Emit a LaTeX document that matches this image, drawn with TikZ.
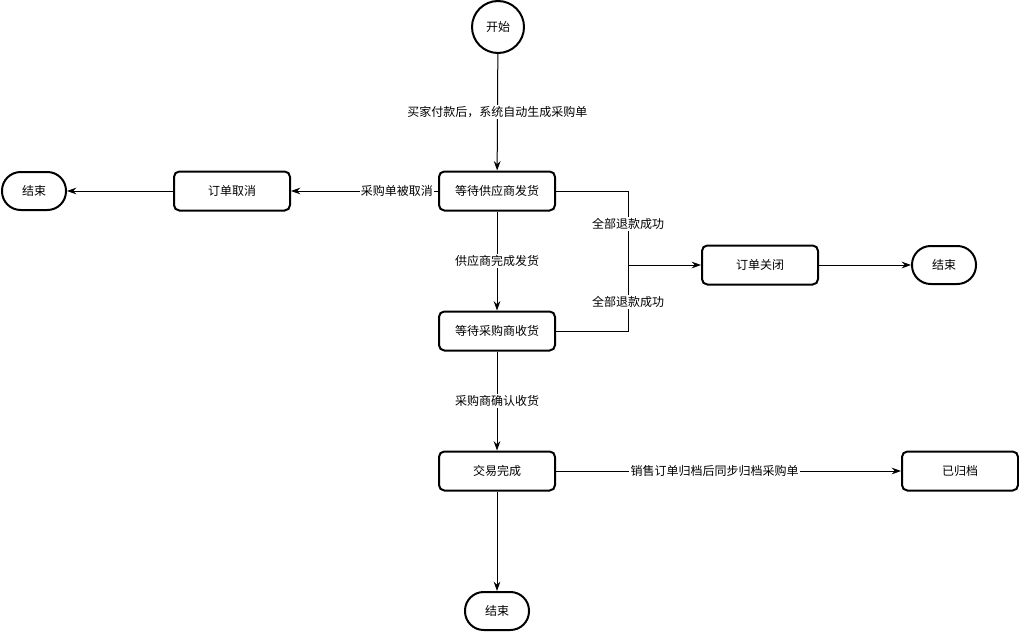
\documentclass[tikz,border=0pt]{standalone}
\usepackage{fontspec}
\setmainfont{Noto Sans CJK SC}
\usetikzlibrary{arrows.meta}
\begin{document}
\begin{tikzpicture}[x=0.75pt,y=-0.75pt,
  box/.style={draw,line width=1.5pt,rounded corners=4pt,minimum width=116*0.75pt,minimum height=39*0.75pt,font=\fontsize{9}{10}\selectfont,inner sep=0pt},
  term/.style={draw,line width=1.5pt,rounded corners=14pt,minimum width=64*0.75pt,minimum height=38*0.75pt,font=\fontsize{9}{10}\selectfont,inner sep=0pt},
  arr/.style={-{Stealth[length=7pt,width=5pt]},line width=0.75pt},
  lbl/.style={fill=white,font=\fontsize{9}{10}\selectfont,inner sep=1pt}]
\useasboundingbox (0,0) rectangle (1019,631);
\node[circle,draw,line width=1.5pt,minimum size=52*0.75pt,inner sep=0pt,font=\fontsize{9}{10}\selectfont] (start) at (498,27) {开始};
\node[box] (wait1) at (497,191) {等待供应商发货};
\node[box] (cancel) at (232,191) {订单取消};
\node[term] (endL) at (34,191) {结束};
\node[box] (close) at (760,265) {订单关闭};
\node[term] (endR) at (944,265) {结束};
\node[box] (wait2) at (497,331) {等待采购商收货};
\node[box] (done) at (497,471) {交易完成};
\node[box] (arch) at (960,471) {已归档};
\node[term] (endB) at (497,611) {结束};
\coordinate (j) at (628,265);
\draw[arr] (start) -- node[lbl]{买家付款后，系统自动生成采购单} (wait1);
\draw[arr] (wait1) -- node[lbl,pos=0.28]{采购单被取消} (cancel);
\draw[arr] (cancel) -- (endL);
\draw[arr] (wait1) -- node[lbl]{供应商完成发货} (wait2);
\draw[arr] (wait1.east) -| node[lbl,pos=0.72]{全部退款成功} (j) -- (close);
\draw[line width=0.75pt] (wait2.east) -| node[lbl,pos=0.72]{全部退款成功} (j);
\draw[arr] (close) -- (endR);
\draw[arr] (wait2) -- node[lbl]{采购商确认收货} (done);
\draw[arr] (done) -- node[lbl,pos=0.46]{销售订单归档后同步归档采购单} (arch);
\draw[arr] (done) -- (endB);
\end{tikzpicture}
\end{document}
